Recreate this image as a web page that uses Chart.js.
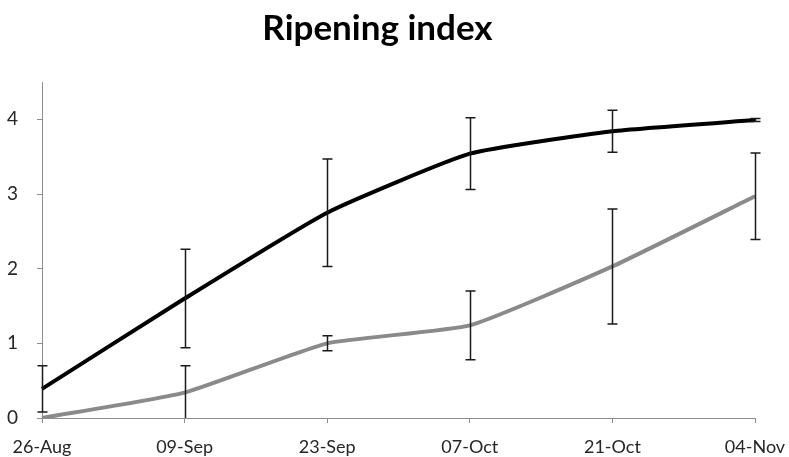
<!DOCTYPE html>
<html>
<head>
<meta charset="utf-8">
<script src="https://cdn.jsdelivr.net/npm/chart.js@4"></script>
<style>
  html, body { margin: 0; padding: 0; background: #fff; }
  #wrap { width: 789px; height: 457px; }
</style>
</head>
<body>
<div id="wrap"><canvas id="ripeningChart" width="789" height="457"></canvas></div>
<script>
// sampling dates
const dates = ["26-Aug", "09-Sep", "23-Sep", "07-Oct", "21-Oct", "04-Nov"];

// black series: mean and half-width of the error bar
const blackMean = [0.39, 1.60, 2.75, 3.54, 3.84, 3.99];
const blackErr = [0.31, 0.66, 0.72, 0.48, 0.28, 0.02];

// grey series
const greyMean = [0.00, 0.34, 1.00, 1.24, 2.03, 2.97];
const greyErr = [0.00, 0.36, 0.10, 0.46, 0.77, 0.58];

const yTicks = [0, 1, 2, 3, 4];

// draws vertical error bars with caps, using the y scale of the chart
const errorBarPlugin = {
  id: "errorBars",
  afterDatasetsDraw(chart) {
    const ctx = chart.ctx;
    const yScale = chart.scales.y;
    const area = chart.chartArea;
    ctx.save();
    ctx.beginPath();
    ctx.rect(area.left - 10, area.top, area.right - area.left + 20, area.bottom - area.top);
    ctx.clip();
    ctx.strokeStyle = "#1a1a1a";
    ctx.lineWidth = 1.5;
    chart.data.datasets.forEach(function (ds, di) {
      if (!ds.errors) return;
      const meta = chart.getDatasetMeta(di);
      meta.data.forEach(function (pt, i) {
        const err = ds.errors[i];
        if (!err) return;
        const x = Math.round(pt.x) + 0.5;
        const yTop = yScale.getPixelForValue(ds.data[i] + err);
        const yBot = yScale.getPixelForValue(ds.data[i] - err);
        ctx.beginPath();
        ctx.moveTo(x, yTop);
        ctx.lineTo(x, yBot);
        ctx.moveTo(x - 5, yTop);
        ctx.lineTo(x + 5, yTop);
        ctx.moveTo(x - 5, yBot);
        ctx.lineTo(x + 5, yBot);
        ctx.stroke();
      });
    });
    ctx.restore();
  }
};

const ctx = document.getElementById("ripeningChart").getContext("2d");
new Chart(ctx, {
  type: "line",
  data: {
    labels: dates,
    datasets: [
      {
        label: "Series 1",
        data: blackMean,
        errors: blackErr,
        borderColor: "#000000",
        borderWidth: 4,
        pointRadius: 0,
        tension: 0.15,
        fill: false,
      },
      {
        label: "Series 2",
        data: greyMean,
        errors: greyErr,
        borderColor: "#8a8a8a",
        borderWidth: 4,
        pointRadius: 0,
        tension: 0.15,
        fill: false,
      },
    ],
  },
  options: {
    responsive: false,
    animation: false,
    layout: { padding: { left: 0, right: 34, top: 0, bottom: 0 } },
    plugins: {
      legend: { display: false },
      tooltip: { enabled: false },
      title: {
        display: true,
        text: "Ripening index",
        color: "#000",
        font: { family: "Lato", weight: "bold", size: 35 },
        padding: { top: 8, bottom: 32 },
      },
    },
    scales: {
      x: {
        type: "category",
        offset: false,
        grid: {
          drawOnChartArea: false,
          drawTicks: true,
          tickLength: 5,
          color: "#8c8c8c",
        },
        border: { display: true, color: "#8c8c8c", width: 1 },
        ticks: {
          color: "#262626",
          font: { family: "Lato", size: 18 },
          padding: 13,
          maxRotation: 0,
          autoSkip: false,
        },
        afterFit(scale) {
          scale.height = 39;
          // let the edge labels hang outside the plot, like the original
          scale.paddingLeft = 0;
          scale.paddingRight = 0;
        },
      },
      y: {
        min: 0,
        max: 4.5,
        afterBuildTicks(scale) {
          scale.ticks = yTicks.map(function (v) { return { value: v }; });
        },
        grid: {
          drawOnChartArea: false,
          drawTicks: true,
          tickLength: 5,
          color: "#8c8c8c",
        },
        border: { display: true, color: "#8c8c8c", width: 1 },
        ticks: {
          color: "#262626",
          font: { family: "Lato", size: 19 },
          padding: 19,
        },
        afterFit(scale) { scale.width = 42; },
      },
    },
  },
  plugins: [errorBarPlugin],
});
</script>
</body>
</html>
